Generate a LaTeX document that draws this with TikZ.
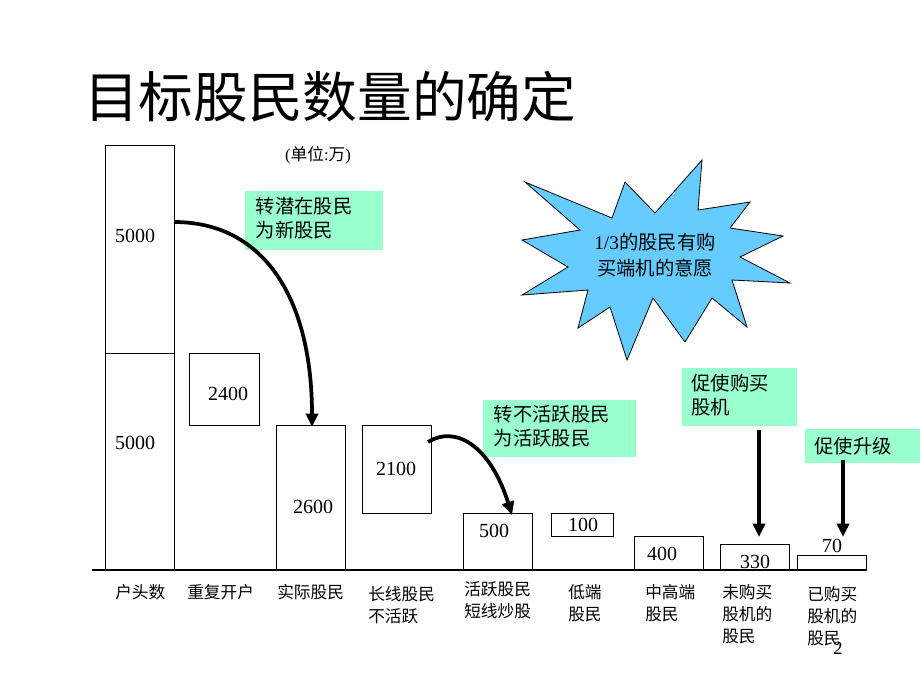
\documentclass[tikz,border=0pt]{standalone}
\usepackage{fontspec}
\setmainfont{Liberation Serif}
\newfontfamily\cjk{Noto Sans CJK SC}
\usetikzlibrary{arrows.meta}
\definecolor{mint}{HTML}{99FFCC}
\definecolor{burst}{HTML}{66CCFF}
\begin{document}
\begin{tikzpicture}[x=0.75pt,y=-0.75pt,
  bar/.style 2 args={draw,line width=0.8pt,minimum width=#1*0.75pt,minimum height=#2*0.75pt,inner sep=0pt,anchor=north west},
  num/.style={font=\fontsize{15}{18}\selectfont,inner sep=0pt},
  lab/.style={font=\cjk\fontsize{12.5}{16.5}\selectfont,align=left,anchor=north west,inner sep=0pt},
  note/.style={fill=mint,font=\cjk\fontsize{14.5}{18}\selectfont,align=left,anchor=north west,inner sep=0pt,text width=#1},
  bigarrow/.style={line width=2.8pt,-{Triangle[length=10pt,width=9pt]}}]
\useasboundingbox (0,0) rectangle (920,690);
% title
\node[font=\cjk\fontsize{41}{44}\selectfont,inner sep=0pt,anchor=west] (title) at (84,97) {目标股民数量的确定};
\node[font=\fontsize{12.5}{14}\selectfont,inner sep=0pt] (unit) at (318,155) {(\cjk 单位\rmfamily:\cjk 万\rmfamily)};
% baseline
\coordinate (bl) at (92,570);
\coordinate (br) at (867,570);
\draw[line width=0.8pt] (bl) -- (br);
% bars
\node[bar={69}{208}] (b1a) at (105,145) {};
\node[bar={69}{217}] (b1b) at (105,353) {};
\node[bar={70}{72}] (b2) at (189,353) {};
\node[bar={69}{145}] (b3) at (276,425) {};
\node[bar={69}{88}] (b4) at (362,425) {};
\node[bar={69}{57}] (b5) at (463,513) {};
\node[bar={62}{23}] (b6) at (551,513) {};
\node[bar={69}{34}] (b7) at (634,536) {};
\node[bar={69}{26}] (b8) at (720,544) {};
\node[bar={69}{15}] (b9) at (797,555) {};
% numbers
\node[num] (n1a) at (135,236) {5000};
\node[num] (n1b) at (135,443) {5000};
\node[num] (n2) at (228,394) {2400};
\node[num] (n3) at (313,507) {2600};
\node[num] (n4) at (396,469) {2100};
\node[num] (n5) at (494,531) {500};
\node[num] (n6) at (583,525) {100};
\node[num] (n7) at (662,554) {400};
\node[num] (n8) at (755,562) {330};
\node[num] (n9) at (832,546) {70};
% labels
\node[lab] (l1) at (115,584) {户头数};
\node[lab] (l2) at (187,584) {重复开户};
\node[lab] (l3) at (277,584) {实际股民};
\node[lab] (l4) at (368,586) {长线股民\\不活跃};
\node[lab] (l5) at (464,581) {活跃股民\\短线炒股};
\node[lab] (l6) at (568,584) {低端\\股民};
\node[lab] (l7) at (645,584) {中高端\\股民};
\node[lab] (l8) at (722,584) {未购买\\股机的\\股民};
\node[lab] (l9) at (807,586) {已购买\\股机的\\股民};
% notes
\node[note=138*0.75pt,minimum height=59*0.75pt] (g1) at (245,191) {\hspace*{8pt}\begin{tabular}{@{}l@{}}转潜在股民\\为新股民\end{tabular}};
\node[note=153*0.75pt,minimum height=57*0.75pt] (g2) at (483,400) {\hspace*{8pt}\begin{tabular}{@{}l@{}}转不活跃股民\\为活跃股民\end{tabular}};
\node[note=115*0.75pt,minimum height=58*0.75pt] (g3) at (682,368) {\hspace*{7pt}\begin{tabular}{@{}l@{}}促使购买\\股机\end{tabular}};
\node[note=115*0.75pt,minimum height=34*0.75pt] (g4) at (805,429) {\hspace*{7pt}促使升级};
% arrows
\coordinate (a1s) at (174,222);
\coordinate (a1e) at (312,427);
\draw[bigarrow] (a1s) .. controls (265,222) and (312,300) .. (a1e);
\coordinate (a2s) at (428,442);
\coordinate (a2e) at (512,515);
\draw[bigarrow] (a2s) .. controls (455,425) and (490,445) .. (a2e);
\coordinate (a3s) at (759,430);
\coordinate (a3e) at (759,537);
\draw[bigarrow] (a3s) -- (a3e);
\coordinate (a4s) at (843,460);
\coordinate (a4e) at (843,537);
\draw[bigarrow] (a4s) -- (a4e);
% starburst
\draw[fill=burst,line width=0.6pt] (525,182) -- (612,218) -- (625,182) -- (655,213) -- (702,160) -- (698,210) -- (750,202) -- (730,228) -- (783,236) -- (740,257) -- (790,283) -- (732,280) -- (747,327) -- (712,298) -- (685,342) -- (653,298) -- (627,360) -- (610,307) -- (578,328) -- (588,290) -- (522,295) -- (568,267) -- (522,240) -- (580,230) -- cycle;
\node[font=\fontsize{14.5}{20}\selectfont,align=center,inner sep=0pt] (burstt) at (655,255) {1/3{\cjk 的股民有购}\\{\cjk 买端机的意愿}};
% page number
\node[font=\fontsize{14}{16}\selectfont,inner sep=0pt] (pg) at (838,648) {2};
\end{tikzpicture}
\end{document}
